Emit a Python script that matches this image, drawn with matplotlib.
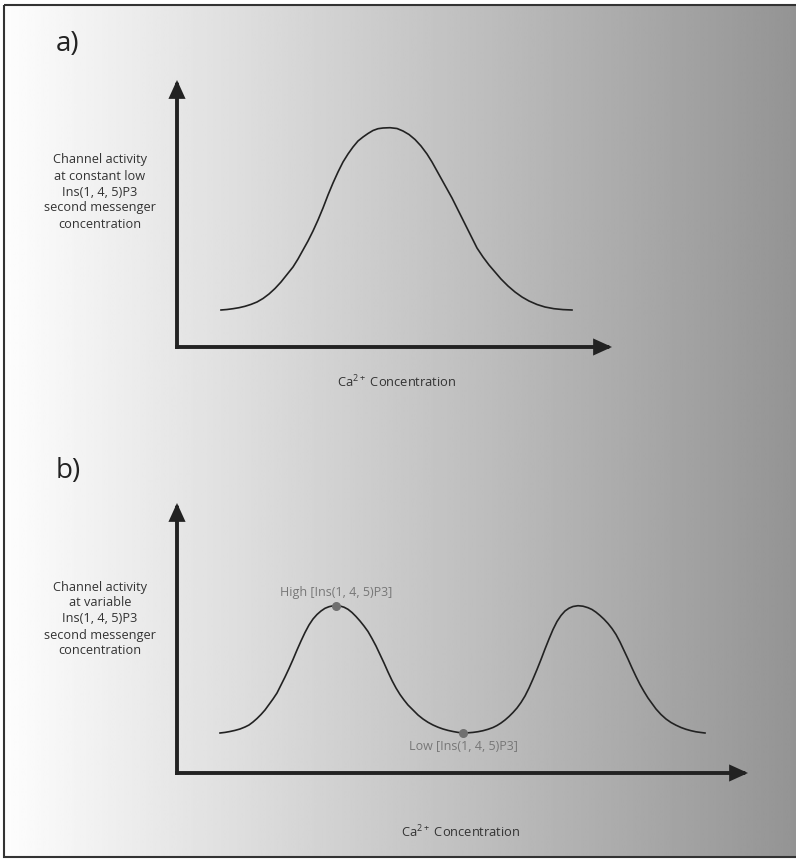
"""
Actividad del canal frente a la concentración de Ca2+ (paneles a y b).
"""
#-->Importar librerías
import numpy as np
import matplotlib
matplotlib.use("Agg")
import matplotlib.pyplot as plt
from matplotlib.patches import Rectangle

plt.rcParams["font.family"] = ["Open Sans", "DejaVu Sans"]
plt.rcParams["mathtext.fontset"] = "custom"
plt.rcParams["mathtext.rm"] = "Open Sans"

#-->Datos (x: Ca2+, y: actividad, unidades arbitrarias)
ca_a = [44, 50, 56, 62, 68, 74, 80, 86, 92, 98, 104, 110, 116, 121, 126, 131,
        136, 141, 146, 151, 156, 161, 166, 171, 176, 181, 186, 191, 196, 201,
        206, 213, 220, 226, 232, 238, 244, 250, 255, 260, 265, 270, 275, 280,
        285, 290, 295, 300, 306, 312, 318, 324, 331, 338, 345, 352, 360, 368,
        377, 386, 395]
act_a = [37, 37.5, 38.3, 39.3, 40.7, 42.6, 45, 48.5, 53, 58.5, 65, 72.5, 80,
         88, 97, 106, 116, 127, 139, 152, 164, 175, 185, 193, 200, 206, 210,
         213.5, 216.5, 218.3, 219, 219.3, 218.5, 216, 212.5, 207.5, 201, 193,
         185, 176, 167, 158, 149, 139, 129, 119, 109, 99, 90, 82, 75, 68, 61,
         55, 50, 46, 42.5, 40, 38.3, 37.4, 37]

ca_b = [43, 48, 53, 58, 63, 68, 72, 76, 80, 84, 88, 92, 96, 100, 104, 108,
        112, 116, 120, 124, 128, 132, 136, 140, 144, 148, 152, 156, 159, 163,
        167, 171, 175, 179, 183, 187, 191, 195, 199, 203, 207, 211, 215, 219,
        223, 227, 231, 236, 241, 246, 251, 256, 261, 266, 271, 276, 281, 286,
        291, 296, 301, 306, 311, 316, 320, 324, 328, 332, 336, 340, 344, 348,
        352, 356, 360, 364, 368, 372, 376, 380, 384, 388, 392, 396, 401, 406,
        411, 415, 419, 423, 427, 431, 435, 439, 443, 447, 451, 455, 459, 463,
        467, 471, 475, 479, 484, 489, 494, 499, 504, 509, 514, 519, 524, 528]
act_b = [40, 40.6, 41.5, 42.6, 44, 46, 48, 51, 54.5, 58.5, 63, 68.5, 74, 80,
         88, 96, 104.5, 113.5, 123, 132, 140.5, 148, 154, 158.5, 162, 164.7,
         166.3, 167.2, 167.3, 167, 165.8, 163.7, 160.5, 156.5, 152, 147, 141.5,
         134.5, 127, 118.5, 110, 101, 92.5, 85, 78.5, 73, 68, 63, 58, 54, 50.7,
         48, 45.8, 44, 42.6, 41.5, 40.6, 40,
         40.2, 40.6, 41.3, 42.3, 43.7, 45.5, 47.5, 50, 53, 56.5, 60.5, 65, 70.5,
         77, 85, 94, 103.5, 113.5, 124, 134, 143.5, 151.5, 157.5, 162, 164.8,
         166.5, 167.3, 166.8, 165.3, 163.5, 160.8, 157.5, 153.8, 149.5, 144.5,
         138.5, 131, 122.5, 114, 105, 96.5, 88.5, 81.5, 75, 69.5, 64, 58.5, 54,
         50.5, 47.8, 45.5, 43.7, 42.3, 41.2, 40.5, 40]

#-->Puntos marcados en el panel b
marca_ca = [159, 286]
marca_act = [167.3, 40]
marca_txt = ["High [Ins(1, 4, 5)P3]", "Low [Ins(1, 4, 5)P3]"]

#-->Textos
ylabel_a = "Channel activity\nat constant low\nIns(1, 4, 5)P3\nsecond messenger\nconcentration"
ylabel_b = "Channel activity\nat variable\nIns(1, 4, 5)P3\nsecond messenger\nconcentration"
xlabel = r"Ca$^{\mathregular{2+}}$ Concentration"

W, H = 796, 859
OSCURO = "#222222"
TEXTO = "#333333"

fig = plt.figure(figsize=(W / 100, H / 100), dpi=100)

#-->Fondo con degradado y marco
bg = fig.add_axes([0, 0, 1, 1])
bg.axis("off")
grad = np.linspace(253, 148, 400)[None, :] / 255.0
bg.imshow(np.repeat(grad, 2, axis=0), cmap="gray", vmin=0, vmax=1,
          extent=[4, W, 857, 5], aspect="auto", interpolation="bilinear")
bg.add_patch(Rectangle((4, 5), W, 852, fill=False, edgecolor="#333333", lw=1.5))
bg.set_xlim(0, W)
bg.set_ylim(H, 0)


def panel(origen, ancho, alto, y_len, x_len):
    """Crea un eje con el origen en el pixel indicado (1 unidad = 1 pixel)."""
    ox, oy = origen
    ax = fig.add_axes([ox / W, (H - oy) / H, ancho / W, alto / H])
    ax.set_xlim(0, ancho)
    ax.set_ylim(0, alto)
    ax.axis("off")
    ax.patch.set_alpha(0)
    props = dict(arrowstyle="-|>,head_length=0.55,head_width=0.25",
                 lw=2.8, color=OSCURO, shrinkA=0, shrinkB=0, mutation_scale=16,
                 capstyle="projecting", joinstyle="miter")
    ax.annotate("", xy=(0, y_len), xytext=(0, 0), arrowprops=props)
    ax.annotate("", xy=(x_len, 0), xytext=(0, 0), arrowprops=props)
    return ax


#-->Panel a
ax_a = panel((177, 347), 450, 280, 267, 435)
ax_a.plot(ca_a, act_a, color=OSCURO, lw=1.2)

#-->Panel b
ax_b = panel((177, 773), 590, 280, 270, 571)
ax_b.plot(ca_b, act_b, color=OSCURO, lw=1.2)
ax_b.scatter(marca_ca, marca_act, s=30, color="#707070", zorder=3)
ax_b.text(marca_ca[0], marca_act[0] + 7, marca_txt[0], ha="center", va="bottom",
          fontsize=9, color="#777777")
ax_b.text(marca_ca[1], marca_act[1] - 7, marca_txt[1], ha="center", va="top",
          fontsize=9, color="#777777")

#-->Etiquetas y letras de panel
bg.text(68, 44, "a)", fontsize=20, color=OSCURO, ha="center", va="center")
bg.text(68, 471, "b)", fontsize=20, color=OSCURO, ha="center", va="center")
bg.text(100, 192, ylabel_a, fontsize=9.2, color=TEXTO, ha="center", va="center",
        linespacing=1.3)
bg.text(100, 619, ylabel_b, fontsize=9.2, color=TEXTO, ha="center", va="center",
        linespacing=1.3)
bg.text(397, 382, xlabel, fontsize=9.3, color=TEXTO, ha="center", va="center")
bg.text(461, 832, xlabel, fontsize=9.3, color=TEXTO, ha="center", va="center")

fig.savefig("out.png", dpi=100)
